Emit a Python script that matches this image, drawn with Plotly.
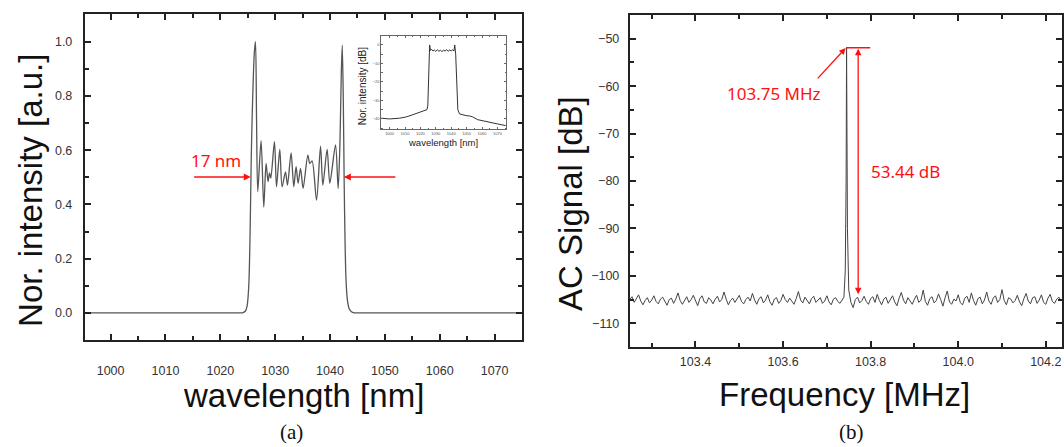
import plotly.graph_objects as go

# ---------------- data: panel (a) main spectrum ----------------
spec_wl = [995.0, 1010.0, 1023.5, 1024.0, 1024.55, 1024.88, 1025.18, 1025.45, 1025.62, 1025.8,
           1026.0, 1026.2, 1026.41, 1026.6, 1026.82, 1027.43, 1027.92, 1028.34, 1028.70, 1028.96,
           1029.20, 1029.87, 1030.24, 1030.84, 1031.26, 1031.88, 1032.24, 1032.90, 1033.39, 1033.81,
           1034.18, 1034.62, 1035.09, 1035.95, 1036.31, 1036.73, 1037.54, 1038.27, 1038.69, 1039.47,
           1039.96, 1041.0, 1041.48, 1041.8, 1042.05, 1042.23, 1042.42, 1042.58, 1042.75, 1042.92,
           1043.15, 1043.5, 1043.9, 1044.4, 1044.9, 1060.0, 1075.0]
spec_int = [0.0, 0.0, 0.0, 0.0, 0.006, 0.025, 0.097, 0.32, 0.55, 0.72,
            0.86, 0.96, 1.0, 0.72, 0.447, 0.635, 0.39, 0.551, 0.484, 0.516,
            0.497, 0.631, 0.465, 0.603, 0.465, 0.52, 0.471, 0.59, 0.465, 0.539,
            0.478, 0.533, 0.459, 0.582, 0.551, 0.56, 0.416, 0.615, 0.471, 0.603,
            0.478, 0.619, 0.459, 0.62, 0.88, 0.987, 0.78, 0.48, 0.25, 0.12,
            0.05, 0.015, 0.004, 0.0, 0.0, 0.0, 0.0]

# ---------------- data: panel (a) inset (dB) ----------------
inset_wl = [994.6, 1000.0, 1006.5, 1010.8, 1015.1, 1019.4, 1022.7, 1024.2, 1024.8, 1025.4,
            1026.0, 1026.5, 1027.3, 1028.2, 1029.0, 1030.0, 1031.0, 1032.0, 1033.0, 1034.0,
            1035.0, 1036.0, 1037.0, 1038.0, 1039.0, 1040.0, 1041.0, 1041.8, 1042.3, 1042.9,
            1043.6, 1044.3, 1045.4, 1047.5, 1049.7, 1052.0, 1054.0, 1057.2, 1061.6, 1065.9,
            1070.2, 1075.4]
inset_db = [-39.6, -40.0, -39.6, -38.9, -37.7, -36.4, -35.3, -35.0, -33.0, -12.0,
            0.0, -3.0, -2.4, -3.3, -2.7, -3.5, -2.6, -3.4, -2.9, -3.6,
            -2.8, -3.3, -2.5, -3.4, -2.7, -3.2, -2.6, -3.3, 0.0, -5.0,
            -20.0, -35.0, -37.3, -37.8, -38.2, -38.4, -38.9, -40.4, -41.3, -42.2,
            -42.7, -43.6]

# ---------------- data: panel (b) RF spectrum ----------------
noise_left_start = 103.25
noise_right_start = 103.755
noise_step = 0.005
noise_left_db = [-105.0, -104.4, -105.6, -104.8, -104.0, -105.3, -106.1, -105.2, -104.6, -105.7,
                 -105.1, -104.2, -105.4, -105.9, -104.9, -104.5, -105.5, -106.2, -105.0, -104.7,
                 -105.8, -104.9, -103.6, -105.2, -106.0, -105.1, -104.4, -105.6, -105.0, -104.1,
                 -105.4, -106.3, -104.8, -104.2, -105.5, -105.8, -104.6, -105.1, -105.9, -104.9,
                 -104.3, -105.5, -105.0, -103.4, -104.9, -106.1, -105.2, -104.7, -105.6, -104.9,
                 -104.1, -105.4, -105.9, -105.0, -104.5, -105.3, -103.7, -105.1, -106.0, -104.8,
                 -104.4, -105.7, -105.1, -104.0, -105.5, -106.2, -104.9, -104.6, -105.8, -105.2,
                 -103.9, -105.0, -105.6, -104.7, -105.3, -106.0, -104.8, -103.3, -105.1, -105.7,
                 -104.5, -105.2, -105.9, -104.8, -104.3, -105.6, -105.0, -104.6, -105.8, -105.3,
                 -104.2, -105.5, -106.1, -104.9, -104.6, -105.4, -105.8, -105.1]
peak_freq = [103.739, 103.742, 103.744, 103.745, 103.746, 103.747, 103.750]
peak_db = [-104.5, -99.0, -80.0, -51.9, -63.0, -90.0, -103.0]
noise_right_db = [-105.6, -106.7, -105.0, -104.5, -105.7, -105.2, -104.3, -105.4, -106.0, -104.8,
                  -104.4, -105.6, -103.9, -105.2, -106.1, -104.9, -104.5, -105.8, -105.0, -104.2,
                  -105.5, -106.3, -104.7, -103.5, -105.1, -105.9, -104.6, -105.3, -106.0, -104.9,
                  -104.1, -105.6, -105.1, -103.0, -105.4, -106.2, -104.8, -104.4, -105.7, -105.2,
                  -103.8, -105.0, -106.4, -104.6, -103.2, -105.5, -106.0, -104.9, -105.3, -104.0,
                  -105.7, -106.1, -104.7, -104.3, -105.6, -103.6, -105.2, -106.2, -104.8, -104.5,
                  -105.9, -105.1, -103.4, -105.3, -106.0, -104.7, -104.2, -105.6, -105.0, -102.9,
                  -105.2, -106.1, -104.6, -104.9, -105.7, -105.2, -104.1, -105.5, -106.3, -104.8,
                  -103.7, -105.3, -105.9, -104.6, -104.4, -105.8, -105.1, -104.0, -105.6, -106.0,
                  -104.7, -103.9, -105.4, -105.8, -104.9, -104.5, -105.3]

noise_left_freq = [noise_left_start + i * noise_step for i in range(len(noise_left_db))]
noise_right_freq = [noise_right_start + i * noise_step for i in range(len(noise_right_db))]
rf_freq = noise_left_freq + peak_freq + noise_right_freq
rf_db = noise_left_db + peak_db + noise_right_db

# ---------------- figure ----------------
W, H = 1064, 447
def px(x):
    return x / W
def py(y):
    return 1 - y / H

TICKFONT = dict(family="Liberation Sans, Arial, sans-serif", size=12.5, color="#333")
TITLEFONT = dict(family="Liberation Sans, Arial, sans-serif", size=33, color="#111")
CAPFONT = dict(family="Liberation Serif, Times New Roman, serif", size=21, color="#111")
RED = "#ff1010"
REDFONT = dict(family="Noto Sans, Open Sans, sans-serif", size=17, color=RED)

def axis_style(**kw):
    d = dict(showline=True, linecolor="#222", linewidth=2, mirror="allticks",
             ticks="inside", ticklen=6, tickwidth=1.5, tickcolor="#222",
             showgrid=False, zeroline=False, tickfont=TICKFONT)
    d.update(kw)
    return d

fig = go.Figure()
fig.add_trace(go.Scatter(x=spec_wl, y=spec_int, xaxis="x", yaxis="y", mode="lines",
                         line=dict(color="#555", width=1.3, shape="spline", smoothing=0.8),
                         showlegend=False, hoverinfo="skip"))
fig.add_trace(go.Scatter(x=inset_wl, y=inset_db, xaxis="x3", yaxis="y3", mode="lines",
                         line=dict(color="#333", width=1),
                         showlegend=False, hoverinfo="skip"))
fig.add_trace(go.Scatter(x=rf_freq, y=rf_db, xaxis="x2", yaxis="y2", mode="lines",
                         line=dict(color="#444", width=1),
                         showlegend=False, hoverinfo="skip"))

minor_common = dict(ticklen=4, tickwidth=1.5, tickcolor="#222", ticks="inside")

fig.update_layout(
    width=W, height=H,
    margin=dict(l=0, r=0, t=0, b=0),
    paper_bgcolor="white", plot_bgcolor="rgba(0,0,0,0)",
    showlegend=False,
    xaxis=axis_style(domain=[px(85), px(523)], range=[995.3, 1075], anchor="y",
                     tick0=1000, dtick=10, minor=dict(dtick=5, **minor_common),
                     ticklabelstandoff=18),
    yaxis=axis_style(domain=[py(340), py(14)], range=[-0.1, 1.102], anchor="x",
                     tick0=0, dtick=0.2, tickformat=".1f", minor=dict(dtick=0.1, **minor_common),
                     ticklabelstandoff=8),
    xaxis2=axis_style(domain=[px(631), 1.0], range=[103.25, 104.237], anchor="y2",
                      tick0=103.0, dtick=0.2, tickformat=".1f", minor=dict(dtick=0.1, **minor_common),
                      ticklabelstandoff=2),
    yaxis2=axis_style(domain=[py(347), py(15)], range=[-115, -45], anchor="x2",
                      tick0=-110, dtick=10, minor=dict(dtick=5, **minor_common),
                      ticklabelstandoff=6),
    xaxis3=dict(domain=[px(382), px(507)], range=[994.6, 1075.6], anchor="y3",
                showline=True, linecolor="#666", linewidth=1, mirror="allticks",
                ticks="inside", ticklen=2, tickwidth=1, tickcolor="#666",
                tick0=1000, dtick=10, minor=dict(dtick=5, ticklen=1.5, tickcolor="#666", ticks="inside"),
                showgrid=False, zeroline=False,
                tickfont=dict(family="Liberation Sans, Arial", size=4, color="#555")),
    yaxis3=dict(domain=[py(129.3), py(35.7)], range=[-45.6, 5], anchor="x3",
                showline=True, linecolor="#666", linewidth=1, mirror="allticks",
                ticks="inside", ticklen=2, tickwidth=1, tickcolor="#666",
                tick0=0, dtick=10, minor=dict(dtick=5, ticklen=1.5, tickcolor="#666", ticks="inside"),
                showgrid=False, zeroline=False,
                tickfont=dict(family="Liberation Sans, Arial", size=4, color="#555")),
)

# axis titles and captions
fig.add_annotation(text="Nor. intensity [a.u.]", x=px(30), y=py(190), xref="paper", yref="paper",
                   textangle=-90, showarrow=False, font=TITLEFONT, xanchor="center", yanchor="middle")
fig.add_annotation(text="wavelength [nm]", x=px(304), y=py(395), xref="paper", yref="paper",
                   showarrow=False, font=TITLEFONT, xanchor="center", yanchor="middle")
fig.add_annotation(text="(a)", x=px(292), y=py(432), xref="paper", yref="paper",
                   showarrow=False, font=CAPFONT, xanchor="center", yanchor="middle")
fig.add_annotation(text="AC Signal [dB]", x=px(571), y=py(203), xref="paper", yref="paper",
                   textangle=-90, showarrow=False, font=TITLEFONT, xanchor="center", yanchor="middle")
fig.add_annotation(text="Frequency [MHz]", x=px(846), y=py(394), xref="paper", yref="paper",
                   showarrow=False, font=TITLEFONT, xanchor="center", yanchor="middle")
fig.add_annotation(text="(b)", x=px(853), y=py(432), xref="paper", yref="paper",
                   showarrow=False, font=CAPFONT, xanchor="center", yanchor="middle")

# inset titles
fig.add_annotation(text="wavelength [nm]", x=px(444), y=py(143), xref="paper", yref="paper",
                   showarrow=False, font=dict(family="Liberation Sans, Arial", size=9.5, color="#222"),
                   xanchor="center", yanchor="middle")
fig.add_annotation(text="Nor. intensity [dB]", x=px(363), y=py(86), xref="paper", yref="paper",
                   textangle=-90, showarrow=False, font=dict(family="Liberation Sans, Arial", size=10, color="#222"),
                   xanchor="center", yanchor="middle")

# panel (a) red marks
fig.add_annotation(x=1025.55, y=0.501, ax=1014.96, ay=0.501, xref="x", yref="y", axref="x", ayref="y",
                   text="", showarrow=True, arrowhead=2, arrowsize=1, arrowwidth=1.4, arrowcolor=RED)
fig.add_annotation(x=1042.52, y=0.501, ax=1052.19, ay=0.501, xref="x", yref="y", axref="x", ayref="y",
                   text="", showarrow=True, arrowhead=2, arrowsize=1, arrowwidth=1.4, arrowcolor=RED)
fig.add_annotation(text="17 nm", x=1019.25, y=0.5635, xref="x", yref="y", showarrow=False,
                   font=REDFONT, xanchor="center", yanchor="middle")

# panel (b) red marks
fig.add_annotation(text="103.75 MHz", x=103.58, y=-61.6, xref="x2", yref="y2", showarrow=False,
                   font=REDFONT, xanchor="center", yanchor="middle")
fig.add_annotation(x=103.743, y=-51.97, ax=103.676, ay=-58.67, xref="x2", yref="y2", axref="x2", ayref="y2",
                   text="", showarrow=True, arrowhead=2, arrowsize=1, arrowwidth=1.3, arrowcolor=RED)
fig.add_shape(type="line", x0=103.744, x1=103.799, y0=-51.9, y1=-51.9, xref="x2", yref="y2",
              line=dict(color=RED, width=1.5))
fig.add_annotation(x=103.7715, y=-52.1, ax=103.7715, ay=-104.2, xref="x2", yref="y2", axref="x2", ayref="y2",
                   text="", showarrow=True, arrowhead=2, startarrowhead=2, arrowside="end+start",
                   arrowsize=1, arrowwidth=1.3, arrowcolor=RED)
fig.add_annotation(text="53.44 dB", x=103.88, y=-78.05, xref="x2", yref="y2", showarrow=False,
                   font=REDFONT, xanchor="center", yanchor="middle")

fig.write_html("out.html",
               config={"displayModeBar": False},
               post_script="document.body.style.margin='0';document.body.style.padding='0';"
                           "document.body.style.overflow='hidden';")
